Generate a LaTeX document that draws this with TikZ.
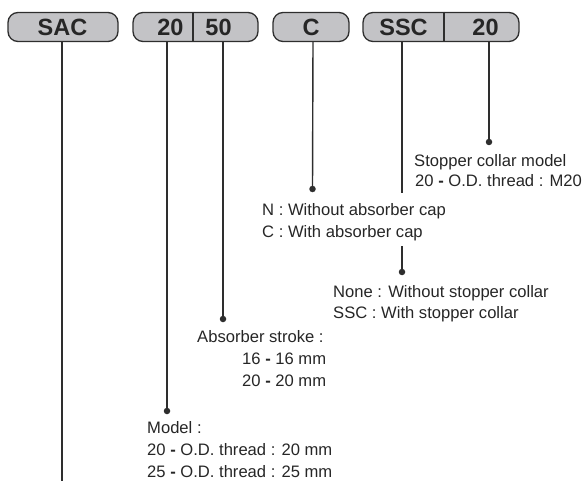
\documentclass[tikz,border=0pt]{standalone}
\usepackage{fontspec}
\setmainfont{Liberation Sans}
\definecolor{linecol}{HTML}{2E2E2E}
\definecolor{textcol}{HTML}{262626}
\definecolor{boxfill}{HTML}{C3C3C6}
\tikzset{
  boxshape/.style={draw=linecol, fill=boxfill, line width=1.3pt, rounded corners=10pt,
    minimum height=29pt, inner sep=0pt},
  boxtext/.style={font=\fontsize{23.5}{28}\selectfont\bfseries, text=textcol, inner sep=0pt, anchor=base},
  lbl/.style={font=\fontsize{16.6}{20}\selectfont, text=textcol, inner sep=0pt, anchor=base west},
  lead/.style={draw=linecol, line width=1.4pt},
  divider/.style={draw=linecol, line width=1.2pt},
  dotmark/.style={circle, fill=linecol, inner sep=0pt, minimum size=6.5pt},
}
\newcommand{\hy}{{\bfseries -}}
\begin{document}
\begin{tikzpicture}[x=1pt,y=-1pt]
\useasboundingbox (0,0) rectangle (583,481);
% boxes
\node[boxshape, minimum width=110pt] (bsac) at (63,27) {};
\node[boxshape, minimum width=125pt] (bsize) at (195.5,27) {};
\node[boxshape, minimum width=76pt] (bcap) at (311,27) {};
\node[boxshape, minimum width=156pt] (bcol) at (441,27) {};
\coordinate (dv1) at (193,27);
\coordinate (dv2) at (444,27);
\draw[divider] (bsize.north -| dv1) -- (bsize.south -| dv1);
\draw[divider] (bcol.north -| dv2) -- (bcol.south -| dv2);
% box texts
\node[boxtext] (tsac) at (62.5,35.5) {SAC};
\node[boxtext] (t20) at (170.5,35.5) {20};
\node[boxtext] (t50) at (218.5,35.5) {50};
\node[boxtext] (tc) at (311,35.5) {C};
\node[boxtext] (tssc) at (403.5,35.5) {SSC};
\node[boxtext] (tm20) at (485.5,35.5) {20};
% leader start points
\coordinate (ssac) at (62,41.5);
\coordinate (s20) at (167,41.5);
\coordinate (s50) at (223,41.5);
\coordinate (sc) at (313,41.5);
\coordinate (sssc) at (402,41.5);
\coordinate (sm20) at (489,41.5);
% dots
\node[dotmark] (dm20) at (489,142) {};
\node[dotmark] (dc) at (312.5,189) {};
\node[dotmark] (dssc) at (402,272) {};
\node[dotmark] (d50) at (223,319) {};
\node[dotmark] (d20) at (167,411) {};
\coordinate (esac) at (62,481);
\coordinate (gapa) at (402,193);
\coordinate (gapb) at (402,246);
% leaders
\draw[lead] (ssac) -- (esac);
\draw[lead] (s20) -- (d20.center);
\draw[lead] (s50) -- (d50.center);
\draw[lead] (sc) -- (dc.center);
\draw[lead] (sssc) -- (gapa);
\draw[lead] (gapb) -- (dssc.center);
\draw[lead] (sm20) -- (dm20.center);
% labels
\node[lbl] (l1a) at (414,166.5) {Stopper collar model};
\node[lbl] (l1b) at (415,186) {20 \hy{} O.D. thread : M20};
\node[lbl] (l2a) at (262,215.5) {N : Without absorber cap};
\node[lbl] (l2b) at (262,237) {C : With absorber cap};
\node[lbl] (l3a) at (333,297) {None : Without stopper collar};
\node[lbl] (l3b) at (333,318.5) {SSC : With stopper collar};
\node[lbl] (l4a) at (197,342) {Absorber stroke :};
\node[lbl] (l4b) at (242,364.5) {16 \hy{} 16 mm};
\node[lbl] (l4c) at (242,386.5) {20 \hy{} 20 mm};
\node[lbl] (l5a) at (147,433) {Model :};
\node[lbl] (l5b) at (147,455) {20 \hy{} O.D. thread : 20 mm};
\node[lbl] (l5c) at (147,477) {25 \hy{} O.D. thread : 25 mm};
\end{tikzpicture}
\end{document}
